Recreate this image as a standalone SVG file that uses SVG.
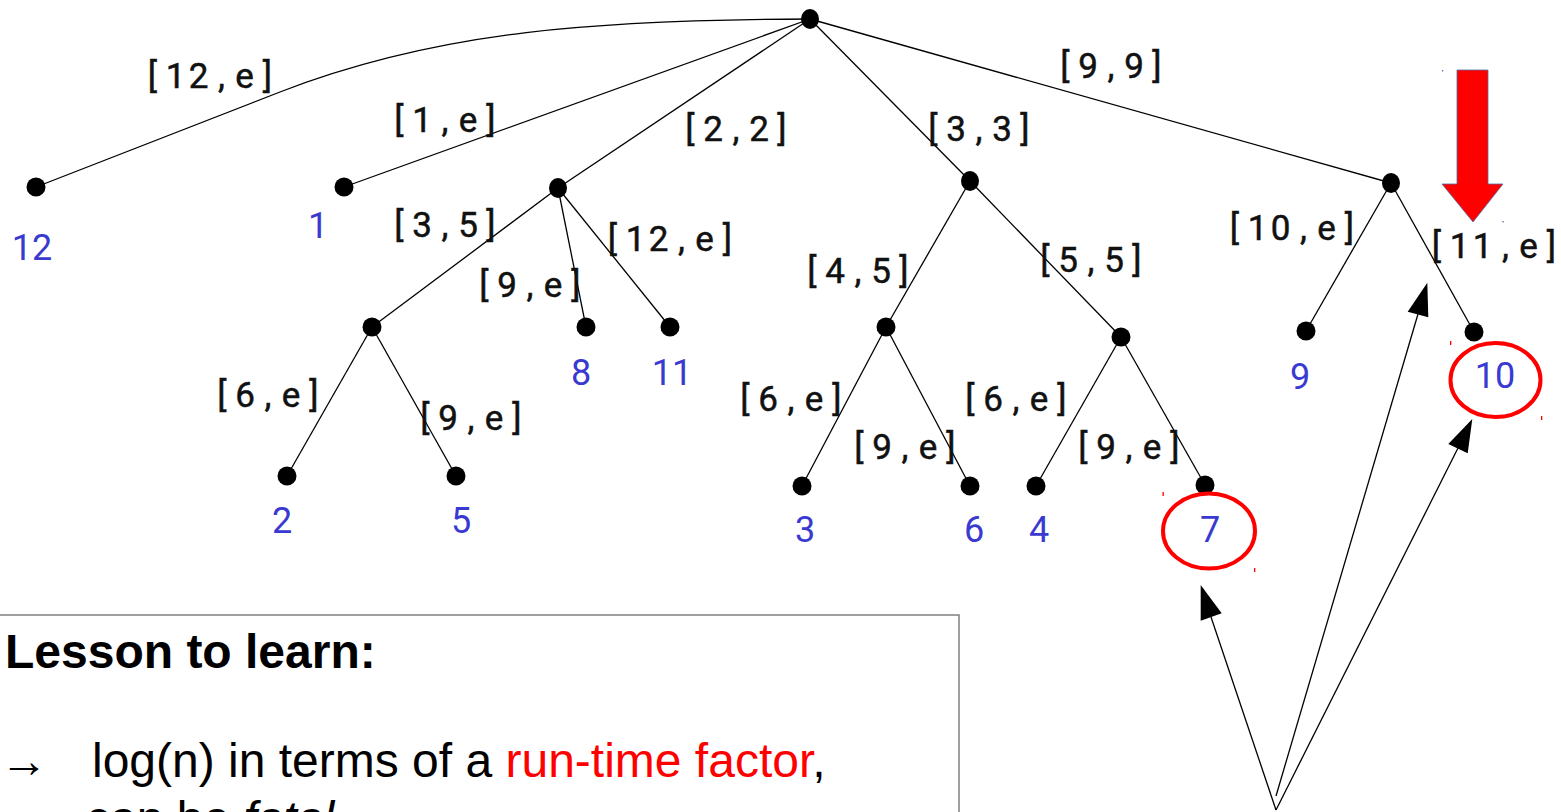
<svg xmlns="http://www.w3.org/2000/svg" width="1561" height="812" viewBox="0 0 1561 812">
<style>
.dot{fill:#000}
.num{font-family:Roboto,"Liberation Sans",sans-serif;font-size:36px;fill:#3a3ad0;text-anchor:middle}
.edge{stroke:#000;stroke-width:1.3;fill:none}
.el{font-family:Roboto,"Liberation Sans",sans-serif;font-size:35px;fill:#111;stroke:#111;stroke-width:0.5;text-anchor:middle}
.ptr{stroke:#000;stroke-width:1.3;fill:none}
.head{fill:#000}
.ring{fill:none;stroke:#f00;stroke-width:4}
.lesson{font-family:"Liberation Sans",Arial,sans-serif;font-size:48px;fill:#000}
</style>
<rect width="1561" height="812" fill="#fff"/>

<g id="connectors">
  <path class="edge" d="M810,19 C600,20 440,30 280,92 L36,187"/>
  <line class="edge" x1="810" y1="19" x2="344" y2="187"/>
  <line class="edge" x1="810" y1="19" x2="558" y2="188"/>
  <line class="edge" x1="810" y1="19" x2="970" y2="181"/>
  <line class="edge" x1="810" y1="19" x2="1391" y2="183"/>
  <line class="edge" x1="558" y1="188" x2="372" y2="327"/>
  <line class="edge" x1="558" y1="188" x2="586" y2="327"/>
  <line class="edge" x1="558" y1="188" x2="670" y2="327"/>
  <line class="edge" x1="372" y1="327" x2="287" y2="476"/>
  <line class="edge" x1="372" y1="327" x2="456" y2="476"/>
  <line class="edge" x1="970" y1="181" x2="886" y2="327"/>
  <line class="edge" x1="970" y1="181" x2="1121" y2="337"/>
  <line class="edge" x1="886" y1="327" x2="802" y2="486"/>
  <line class="edge" x1="886" y1="327" x2="970" y2="486"/>
  <line class="edge" x1="1121" y1="337" x2="1036" y2="486"/>
  <line class="edge" x1="1121" y1="337" x2="1205" y2="485"/>
  <line class="edge" x1="1391" y1="183" x2="1306" y2="331"/>
  <line class="edge" x1="1391" y1="183" x2="1474" y2="332"/>
</g>

<g id="edge-labels">
  <text class="el" x="152.5 175.5 198.5 221.5 244.5 267.5" y="88">[12,e]</text>
  <text class="el" x="399 422 445 468 491" y="132">[1,e]</text>
  <text class="el" x="690 713 736 759 782" y="141">[2,2]</text>
  <text class="el" x="1065 1088 1111 1134 1157" y="78">[9,9]</text>
  <text class="el" x="933 956 979 1002 1025" y="141">[3,3]</text>
  <text class="el" x="399 422 445 468 491" y="237">[3,5]</text>
  <text class="el" x="612.5 635.5 658.5 681.5 704.5 727.5" y="251">[12,e]</text>
  <text class="el" x="484 507 530 553 576" y="297">[9,e]</text>
  <text class="el" x="222 245 268 291 314" y="407">[6,e]</text>
  <text class="el" x="425 448 471 494 517" y="430">[9,e]</text>
  <text class="el" x="812 835 858 881 904" y="283">[4,5]</text>
  <text class="el" x="1045 1068 1091 1114 1137" y="272">[5,5]</text>
  <text class="el" x="745 768 791 814 837" y="411">[6,e]</text>
  <text class="el" x="859 882 905 928 951" y="459">[9,e]</text>
  <text class="el" x="970 993 1016 1039 1062" y="411">[6,e]</text>
  <text class="el" x="1083 1106 1129 1152 1175" y="459">[9,e]</text>
  <text class="el" x="1234.5 1257.5 1280.5 1303.5 1326.5 1349.5" y="240">[10,e]</text>
  <text class="el" x="1436.5 1459.5 1482.5 1505.5 1528.5 1551.5" y="258">[11,e]</text>
</g>

<g id="node-root"><ellipse class="dot" cx="810" cy="19" rx="9" ry="10"/></g>
<g id="node-a"><ellipse class="dot" cx="558" cy="188" rx="9" ry="10"/></g>
<g id="node-b"><ellipse class="dot" cx="970" cy="181" rx="9" ry="10"/></g>
<g id="node-c"><ellipse class="dot" cx="1391" cy="183" rx="9" ry="10"/></g>
<g id="node-d"><ellipse class="dot" cx="372" cy="327" rx="9.5" ry="9.5"/></g>
<g id="node-e"><ellipse class="dot" cx="886" cy="327" rx="9.5" ry="9.5"/></g>
<g id="node-f"><ellipse class="dot" cx="1121" cy="337" rx="9.5" ry="9.5"/></g>

<g id="leaf-12"><ellipse class="dot" cx="36" cy="187" rx="9.5" ry="9.5"/><text class="num" x="32" y="260">12</text></g>
<g id="leaf-1"><ellipse class="dot" cx="344" cy="187" rx="9.5" ry="9.5"/><text class="num" x="318" y="238">1</text></g>
<g id="leaf-8"><ellipse class="dot" cx="586" cy="327" rx="9.5" ry="9.5"/><text class="num" x="581" y="385">8</text></g>
<g id="leaf-11"><ellipse class="dot" cx="670" cy="327" rx="9.5" ry="9.5"/><text class="num" x="672" y="385">11</text></g>
<g id="leaf-2"><ellipse class="dot" cx="287" cy="476" rx="9.5" ry="9.5"/><text class="num" x="282" y="533">2</text></g>
<g id="leaf-5"><ellipse class="dot" cx="456" cy="476" rx="9.5" ry="9.5"/><text class="num" x="461" y="533">5</text></g>
<g id="leaf-3"><ellipse class="dot" cx="802" cy="486" rx="9.5" ry="9.5"/><text class="num" x="805" y="542">3</text></g>
<g id="leaf-6"><ellipse class="dot" cx="970" cy="486" rx="9.5" ry="9.5"/><text class="num" x="974" y="542">6</text></g>
<g id="leaf-4"><ellipse class="dot" cx="1036" cy="486" rx="9.5" ry="9.5"/><text class="num" x="1039" y="542">4</text></g>
<g id="leaf-7"><ellipse class="dot" cx="1205" cy="485" rx="9.5" ry="9.5"/><text class="num" x="1210" y="542">7</text><ellipse class="ring" cx="1209" cy="531" rx="46" ry="37.5"/></g>
<g id="leaf-9"><ellipse class="dot" cx="1306" cy="331" rx="9.5" ry="9.5"/><text class="num" x="1300" y="389">9</text></g>
<g id="leaf-10"><ellipse class="dot" cx="1474" cy="332" rx="9.5" ry="9.5"/><text class="num" x="1495" y="388">10</text><ellipse class="ring" cx="1495.5" cy="380" rx="45" ry="37"/></g>

<g id="marks">
  <rect x="1162.5" y="492" width="1.3" height="4" fill="#f00"/>
  <rect x="1254" y="568" width="1.3" height="4" fill="#f00"/>
  <rect x="1450" y="341" width="1.3" height="4" fill="#f00"/>
  <rect x="1541" y="416" width="1.3" height="4" fill="#f00"/>
  <rect x="1442" y="70" width="1.2" height="1.5" fill="#4a6fa5"/>
  <rect x="1502.5" y="221" width="1.2" height="1.5" fill="#4a6fa5"/>
</g>

<g id="red-arrow">
  <polygon points="1457,70 1488,70 1488,184 1503,184 1473,222 1442,184 1457,184" fill="#f00" stroke="#4a6fa5" stroke-width="0.8"/>
</g>

<g id="pointer-arrows">
  <line class="ptr" x1="1276" y1="810" x2="1211" y2="617"/>
  <polygon class="head" points="1200.7,585 1221.7,613.3 1200.7,620.7"/>
  <line class="ptr" x1="1276" y1="796" x2="1418" y2="314"/>
  <polygon class="head" points="1427.3,282.7 1428.3,317.3 1407.7,311.7"/>
  <line class="ptr" x1="1276" y1="810" x2="1458" y2="448"/>
  <polygon class="head" points="1472.3,419 1467.7,453.3 1448.3,444"/>
</g>

<g id="lesson-box">
  <rect x="-2" y="615" width="961" height="220" fill="none" stroke="#808080" stroke-width="1.5"/>
  <text class="lesson" x="5" y="668" font-weight="bold">Lesson to learn:</text>
  <text class="lesson" x="0" y="777">→</text>
  <text class="lesson" x="92" y="777">log(n) in terms of a <tspan fill="#f00">run-time factor</tspan>,</text>
  <text class="lesson" x="86" y="835">can be <tspan font-style="italic">fatal</tspan></text>
</g>
</svg>
